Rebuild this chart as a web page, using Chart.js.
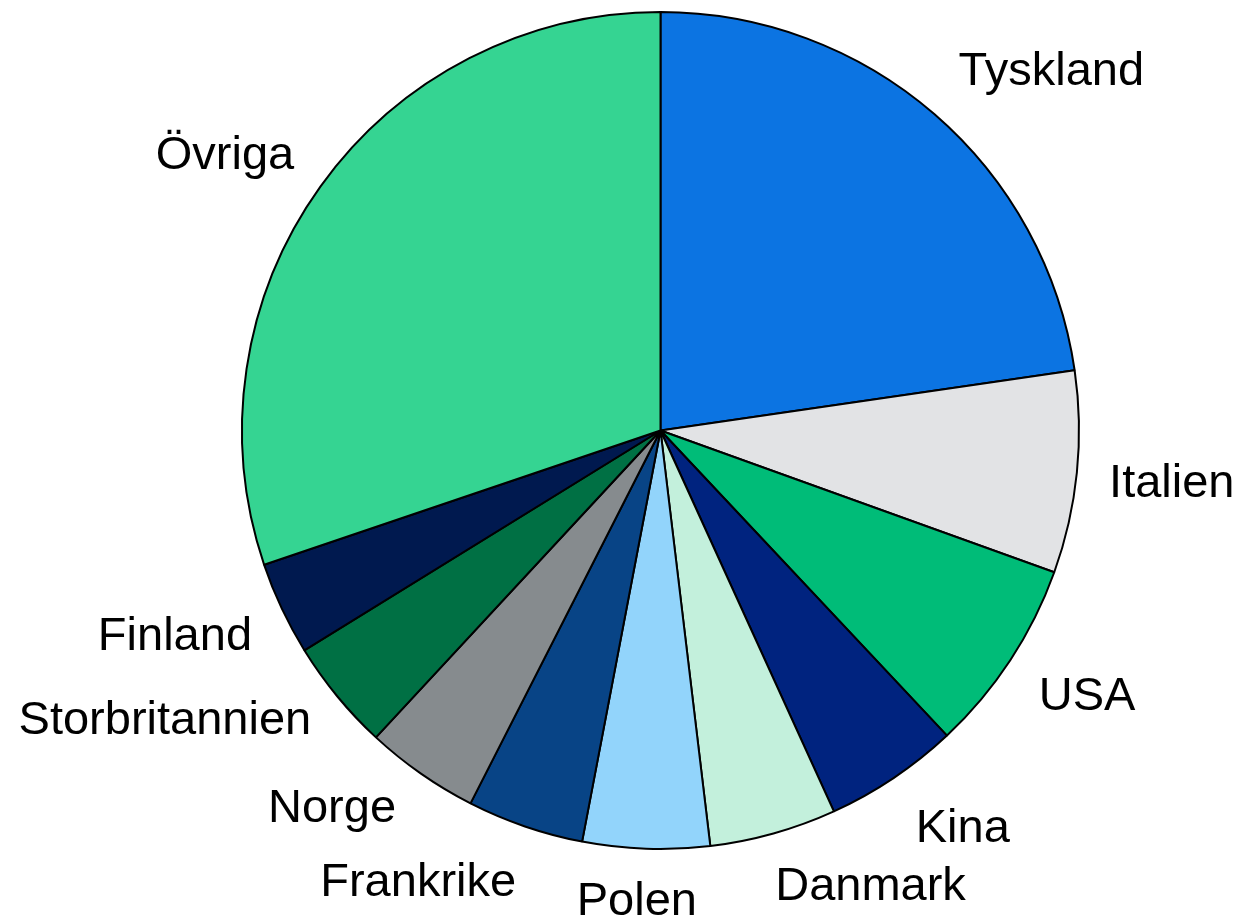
<!DOCTYPE html>
<html lang="sv">
<head>
<meta charset="utf-8">
<title>Export per land</title>
<script src="https://cdn.jsdelivr.net/npm/chart.js@4.4.1/dist/chart.umd.min.js"></script>
<style>
  html, body { margin: 0; padding: 0; background: #ffffff; }
  #wrap { width: 1241px; height: 917px; }
</style>
</head>
<body>
<div id="wrap"><canvas id="pie" width="1241" height="917"></canvas></div>
<script>
// Countries, clockwise from 12 o'clock
const countries = ['Tyskland', 'Italien', 'USA', 'Kina', 'Danmark', 'Polen',
                   'Frankrike', 'Norge', 'Storbritannien', 'Finland', 'Övriga'];

// Share of total, percent
const shares = [22.7, 7.8, 7.5, 5.2, 4.9, 4.9, 4.5, 4.4, 4.3, 3.6, 30.2];

// Slice fill colours
const sliceColors = ['#0c74e2', '#e2e3e5', '#00bc78', '#00237f', '#c3f0dc', '#92d4fb',
                     '#084486', '#868b8e', '#007044', '#00194f', '#35d492'];

// Label anchors: [angle in degrees clockwise from top, distance as multiple of the pie radius]
const labelAnchors = [
  [48.5, 1.247], [97.4, 1.232], [123.2, 1.218], [143.7, 1.220], [155.9, 1.229],
  [182.8, 1.159], [207.5, 1.254], [220.0, 1.221], [238.5, 1.389], [245.7, 1.273],
  [301.0, 1.214]
];

// Draws the country names around the pie
const outsideLabels = {
  id: 'outsideLabels',
  afterDatasetsDraw(chart) {
    const arc = chart.getDatasetMeta(0).data[0];
    if (!arc) return;
    const cx = arc.x, cy = arc.y, R = arc.outerRadius;
    const ctx = chart.ctx;
    ctx.save();
    ctx.font = '47px "Liberation Sans", Arial, sans-serif';
    ctx.fillStyle = '#000000';
    ctx.textAlign = 'center';
    ctx.textBaseline = 'alphabetic';
    countries.forEach((name, i) => {
      const [deg, k] = labelAnchors[i];
      const a = deg * Math.PI / 180;
      ctx.fillText(name, cx + k * R * Math.sin(a), cy - k * R * Math.cos(a));
    });
    ctx.restore();
  }
};

new Chart(document.getElementById('pie'), {
  type: 'pie',
  data: {
    labels: countries,
    datasets: [{
      data: shares,
      backgroundColor: sliceColors,
      borderColor: '#000000',
      borderWidth: 2
    }]
  },
  options: {
    responsive: false,
    devicePixelRatio: 1,
    animation: false,
    events: [],
    layout: { padding: { top: 11, bottom: 67, left: 241, right: 161 } },
    plugins: {
      legend: { display: false },
      tooltip: { enabled: false }
    }
  },
  plugins: [outsideLabels]
});
</script>
</body>
</html>
